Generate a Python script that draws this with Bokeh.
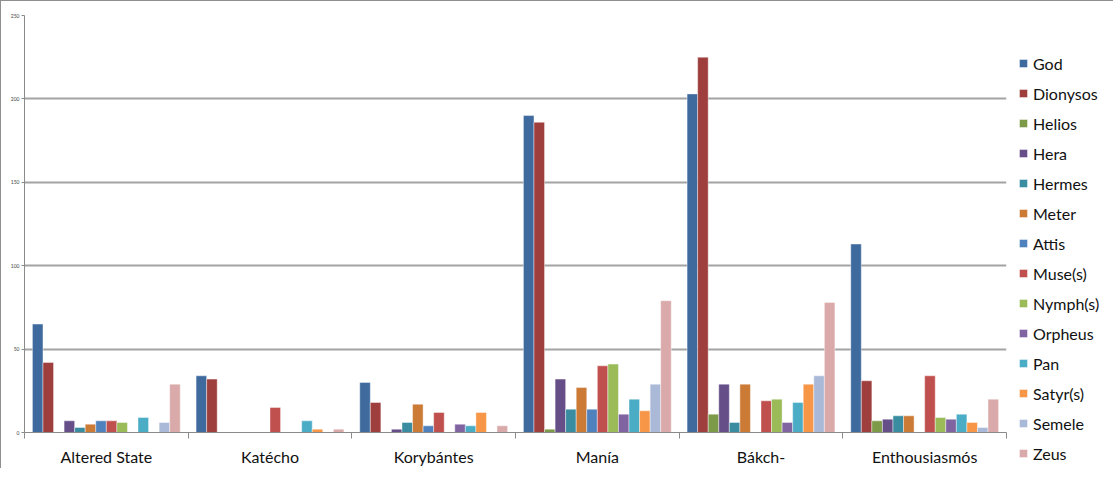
from bokeh.plotting import figure
from bokeh.models import (ColumnDataSource, Range1d, FixedTicker, SingleIntervalTicker,
                          Legend, LegendItem)
from bokeh.transform import dodge
from bokeh.embed import file_html
from bokeh.resources import INLINE

categories = ["Altered State", "Katécho", "Korybántes", "Manía", "Bákch-", "Enthousiasmós"]

series_names = ["God", "Dionysos", "Helios", "Hera", "Hermes", "Meter", "Attis",
                "Muse(s)", "Nymph(s)", "Orpheus", "Pan", "Satyr(s)", "Semele", "Zeus"]

god      = [65, 34, 30, 190, 203, 113]
dionysos = [42, 32, 18, 186, 225, 31]
helios   = [0, 0, 0, 2, 11, 7]
hera     = [7, 0, 2, 32, 29, 8]
hermes   = [3, 0, 6, 14, 6, 10]
meter    = [5, 0, 17, 27, 29, 10]
attis    = [7, 0, 4, 14, 0, 0]
muses    = [7, 15, 12, 40, 19, 34]
nymphs   = [6, 0, 0, 41, 20, 9]
orpheus  = [0, 0, 5, 11, 6, 8]
pan      = [9, 7, 4, 20, 18, 11]
satyrs   = [0, 2, 12, 13, 29, 6]
semele   = [6, 0, 0, 29, 34, 3]
zeus     = [29, 2, 4, 79, 78, 20]

series_values = [god, dionysos, helios, hera, hermes, meter, attis,
                 muses, nymphs, orpheus, pan, satyrs, semele, zeus]

colors = ["#3E6A9E", "#9E3F3D", "#7C9A48", "#664F88", "#3A8CA1", "#CC7B37", "#4F81BD",
          "#C0504D", "#9BBB59", "#8064A2", "#4BACC6", "#F79646", "#AAB9D8", "#DAAAAA"]

y_ticks_interval = 50

FONT = "Lato"

data = {"xc": [i + 0.5 for i in range(len(categories))]}
for i, vals in enumerate(series_values):
    data["s%d" % i] = vals
source = ColumnDataSource(data)

p = figure(frame_width=982, frame_height=417,
           x_range=Range1d(0, len(categories)), y_range=Range1d(0, 250),
           output_backend="svg", toolbar_location=None,
           min_border_left=23, min_border_top=14, min_border_bottom=30, min_border_right=0,
           background_fill_color="white", border_fill_color="white")
p.outline_line_color = None
p.styles = {"border-left": "1px solid #8f8f8f", "border-top": "1px solid #8f8f8f"}

n = len(series_names)
w = 1.0 / (n + 1.5)
items = []
for i, name in enumerate(series_names):
    off = (i - (n - 1) / 2.0) * w
    r = p.vbar(x=dodge("xc", off), top="s%d" % i, width=w, source=source,
               fill_color=colors[i], line_color="white", line_width=0.6, line_alpha=0.7)
    items.append(LegendItem(label=name, renderers=[r]))

# grid
p.xgrid.visible = False
p.ygrid.ticker = SingleIntervalTicker(interval=y_ticks_interval)
p.ygrid.grid_line_color = "#a3a3a3"
p.ygrid.grid_line_width = 2

# y axis
p.yaxis.ticker = SingleIntervalTicker(interval=y_ticks_interval)
p.yaxis.axis_line_color = "#8a8a8a"
p.yaxis.major_tick_line_color = "#8a8a8a"
p.yaxis.major_tick_out = 3
p.yaxis.major_tick_in = 0
p.yaxis.minor_tick_line_color = None
p.yaxis.major_label_text_font_size = "5px"
p.yaxis.major_label_text_color = "#444444"
p.yaxis.major_label_standoff = 1
p.yaxis.major_label_text_font = FONT

# x axis
p.xaxis.ticker = FixedTicker(ticks=data["xc"], minor_ticks=list(range(len(categories) + 1)))
p.xaxis.major_label_overrides = {x: c for x, c in zip(data["xc"], categories)}
p.xaxis.major_tick_line_color = None
p.xaxis.minor_tick_line_color = "#8a8a8a"
p.xaxis.minor_tick_out = 6
p.xaxis.minor_tick_in = 0
p.xaxis.axis_line_color = "#8a8a8a"
p.xaxis.major_label_text_font = FONT
p.xaxis.major_label_text_font_size = "16px"
p.xaxis.major_label_text_color = "#111111"
p.xaxis.major_label_standoff = 8

legend = Legend(items=items, location=(12, -31))
legend.glyph_width = 10
legend.glyph_height = 10
legend.label_height = 20
legend.spacing = 10
legend.label_standoff = 5
legend.padding = 0
legend.margin = 0
legend.border_line_color = None
legend.background_fill_alpha = 0
legend.label_text_font = FONT
legend.label_text_font_size = "16px"
legend.label_text_color = "#111111"
p.add_layout(legend, "right")

open("out.html", "w").write(file_html(p, INLINE))
